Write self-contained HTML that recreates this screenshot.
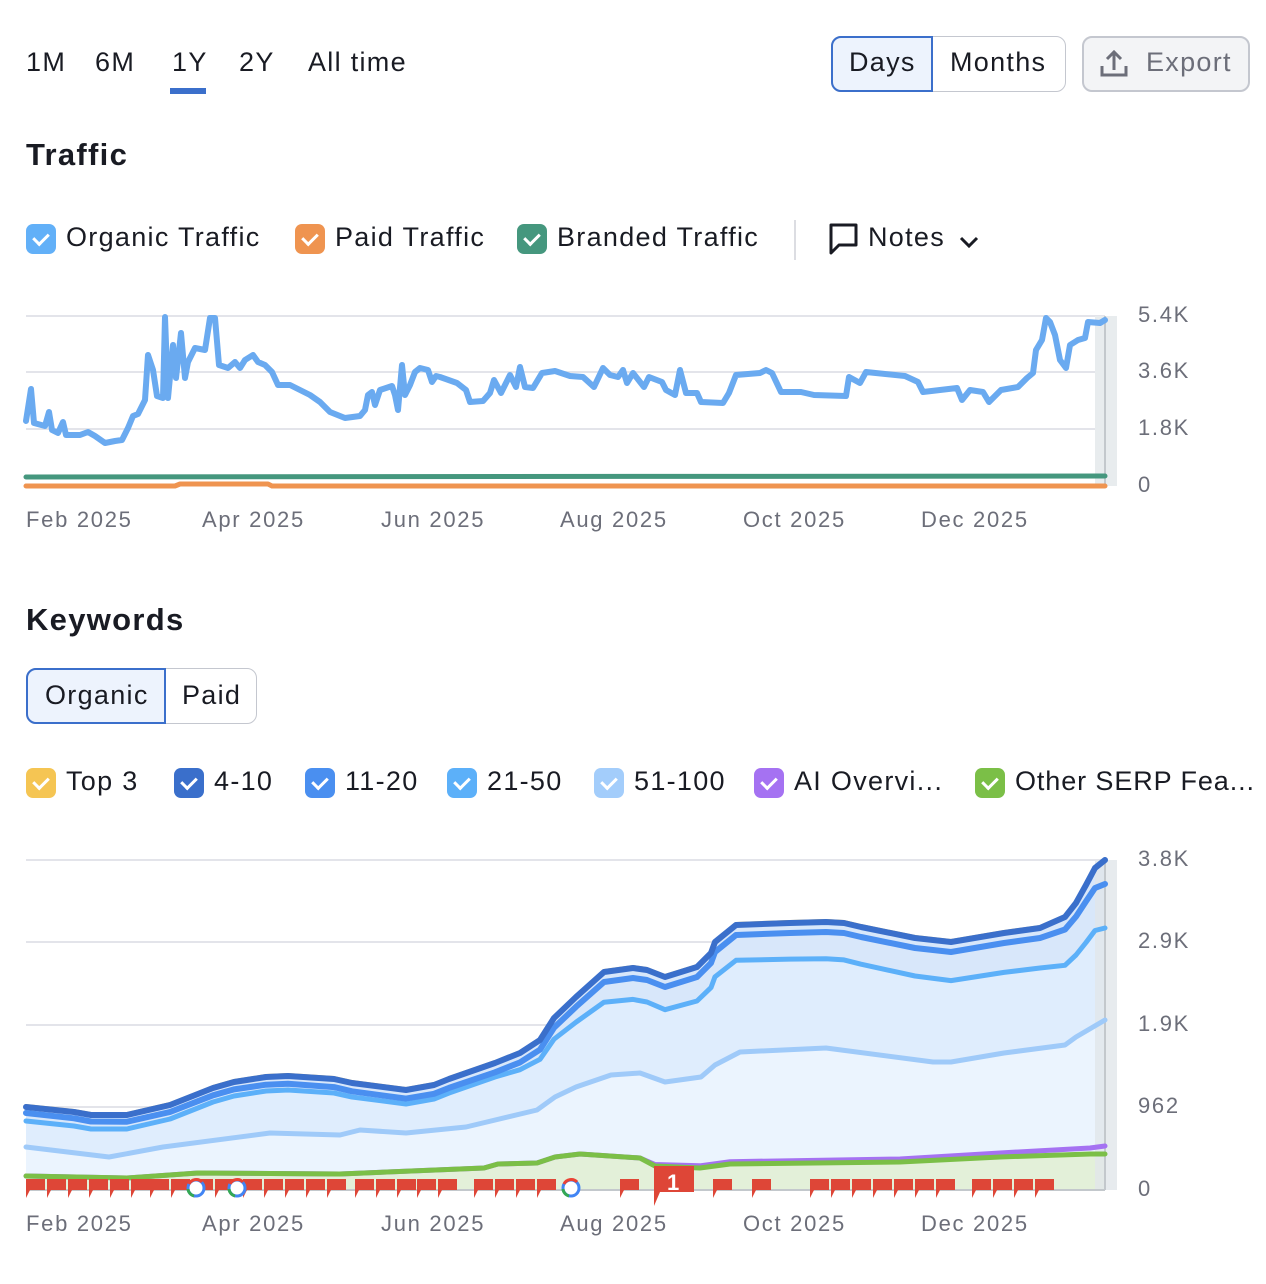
<!DOCTYPE html>
<html><head><meta charset="utf-8">
<style>
body{margin:0;width:1266px;height:1284px;background:#fff;font-family:"Liberation Sans",sans-serif;color:#191b23;position:relative;overflow:hidden;letter-spacing:1.3px}
.a{position:absolute;white-space:nowrap}
.tab{font-size:27px;top:47px}
.cb{display:inline-block;width:30px;height:30px;border-radius:7px;vertical-align:middle;position:relative;margin-right:10px}
.cb:after{content:"";position:absolute;left:10px;top:6px;width:7px;height:12px;border:solid #fff;border-width:0 3px 3px 0;transform:rotate(45deg)}
.lg{font-size:27px;top:222px}
.lg2{font-size:27px;top:766px}
.yl{font-size:22px;color:#6c6e79;letter-spacing:1.7px}
.xl{font-size:22px;color:#6c6e79;letter-spacing:1.7px}
</style></head><body>
<div class="a tab" style="left:26px">1M</div>
<div class="a tab" style="left:95px">6M</div>
<div class="a tab" style="left:172px">1Y</div>
<div class="a" style="left:170px;top:88px;width:36px;height:6px;background:#3b6fcb"></div>
<div class="a tab" style="left:239px">2Y</div>
<div class="a tab" style="left:308px">All time</div>
<div class="a" style="left:831px;top:36px;width:233px;height:54px;border:1px solid #c4c7cf;border-radius:10px"></div>
<div class="a" style="left:831px;top:36px;width:102px;height:56px;border:2px solid #3b6fcb;border-radius:10px 0 0 10px;background:#edf3fd;box-sizing:border-box"></div>
<div class="a tab" style="left:849px">Days</div>
<div class="a tab" style="left:950px">Months</div>
<div class="a" style="left:1082px;top:36px;width:168px;height:56px;border:2px solid #c4c7cf;border-radius:10px;background:#f3f4f6;box-sizing:border-box"></div>
<svg class="a" style="left:1098px;top:48px" width="32" height="32"><path d="M16 4v18M9 11l7-7 7 7M4 18v9h24v-9" fill="none" stroke="#6c6e79" stroke-width="3"/></svg>
<div class="a tab" style="left:1146px;color:#6c6e79">Export</div>

<div class="a" style="left:26px;top:137px;font-size:31px;font-weight:bold">Traffic</div>
<div class="a lg" style="left:26px"><span class="cb" style="background:#62b0f8"></span>Organic Traffic</div>
<div class="a lg" style="left:295px"><span class="cb" style="background:#ef9450"></span>Paid Traffic</div>
<div class="a lg" style="left:517px"><span class="cb" style="background:#45977e"></span>Branded Traffic</div>
<div class="a" style="left:794px;top:220px;width:2px;height:40px;background:#dcdde2"></div>
<svg class="a" style="left:828px;top:222px" width="32" height="36"><path d="M3 3h25v20H11l-8 8z" fill="none" stroke="#191b23" stroke-width="3" stroke-linejoin="round"/></svg>
<div class="a lg" style="left:868px">Notes</div>
<svg class="a" style="left:958px;top:232px" width="22" height="20"><path d="M3 6l8 8 8-8" fill="none" stroke="#191b23" stroke-width="3"/></svg>

<div class="a" style="left:26px;top:602px;font-size:31px;font-weight:bold">Keywords</div>
<div class="a" style="left:26px;top:668px;width:229px;height:54px;border:1px solid #c4c7cf;border-radius:10px"></div>
<div class="a" style="left:26px;top:668px;width:140px;height:56px;border:2px solid #3b6fcb;border-radius:10px 0 0 10px;background:#edf3fd;box-sizing:border-box"></div>
<div class="a" style="left:45px;top:680px;font-size:27px">Organic</div>
<div class="a" style="left:182px;top:680px;font-size:27px">Paid</div>
<div class="a lg2" style="left:26px"><span class="cb" style="background:#f5c553"></span>Top 3</div>
<div class="a lg2" style="left:174px"><span class="cb" style="background:#3a6fcb"></span>4-10</div>
<div class="a lg2" style="left:305px"><span class="cb" style="background:#4a8ff0"></span>11-20</div>
<div class="a lg2" style="left:447px"><span class="cb" style="background:#5cb0f9"></span>21-50</div>
<div class="a lg2" style="left:594px"><span class="cb" style="background:#a3cdfb"></span>51-100</div>
<div class="a lg2" style="left:754px"><span class="cb" style="background:#a572f2"></span>AI Overvi...</div>
<div class="a lg2" style="left:975px;letter-spacing:0.9px"><span class="cb" style="background:#7bbf47"></span>Other SERP Fea...</div>

<svg id="s" class="a" style="left:0;top:0" width="1266" height="1284"></svg>

<div class="a yl" style="left:1138px;top:302px">5.4K</div>
<div class="a yl" style="left:1138px;top:358px">3.6K</div>
<div class="a yl" style="left:1138px;top:415px">1.8K</div>
<div class="a yl" style="left:1138px;top:472px">0</div>
<div class="a yl" style="left:1138px;top:846px">3.8K</div>
<div class="a yl" style="left:1138px;top:928px">2.9K</div>
<div class="a yl" style="left:1138px;top:1011px">1.9K</div>
<div class="a yl" style="left:1138px;top:1093px">962</div>
<div class="a yl" style="left:1138px;top:1176px">0</div>
<div class="a xl" style="left:26px;top:507px">Feb 2025</div>
<div class="a xl" style="left:202px;top:507px">Apr 2025</div>
<div class="a xl" style="left:381px;top:507px">Jun 2025</div>
<div class="a xl" style="left:560px;top:507px">Aug 2025</div>
<div class="a xl" style="left:743px;top:507px">Oct 2025</div>
<div class="a xl" style="left:921px;top:507px">Dec 2025</div>
<div class="a xl" style="left:26px;top:1211px">Feb 2025</div>
<div class="a xl" style="left:202px;top:1211px">Apr 2025</div>
<div class="a xl" style="left:381px;top:1211px">Jun 2025</div>
<div class="a xl" style="left:560px;top:1211px">Aug 2025</div>
<div class="a xl" style="left:743px;top:1211px">Oct 2025</div>
<div class="a xl" style="left:921px;top:1211px">Dec 2025</div>
<div class="a" style="left:667px;top:1170px;font-size:22px;color:#fff;font-weight:bold">1</div>

<script>
var S=document.getElementById('s'),h='';
function P(a){return a.map(function(p){return p[0]+','+p[1]}).join(' ')}
function line(a,c,w){h+='<polyline points="'+P(a)+'" fill="none" stroke="'+c+'" stroke-width="'+w+'" stroke-linejoin="round" stroke-linecap="round"/>'}
function area(a,b,c){var r=b.slice().reverse();h+='<polygon points="'+P(a.concat(r))+'" fill="'+c+'"/>'}
function ip(k,x){for(var i=0;i<k.length-1;i++){if(x<=k[i+1][0]){var t=(x-k[i][0])/(k[i+1][0]-k[i][0]);return k[i][1]+t*(k[i+1][1]-k[i][1])}}return k[k.length-1][1]}
function off(a,k){return a.map(function(p){return [p[0],+(p[1]+ip(k,p[0])).toFixed(1)]})}
[316,372,429].forEach(function(y){h+='<line x1="26" x2="1105" y1="'+y+'" y2="'+y+'" stroke="#e3e4ea" stroke-width="2"/>'});
h+='<rect x="1095" y="316" width="22" height="170" fill="#e8ecee"/><line x1="1105" x2="1105" y1="316" y2="486" stroke="#c3c8cc" stroke-width="2"/>';
var org=[[26,421],[31,389],[34,423],[45,426],[49,412],[52,430],[58,433],[63,422],[66,435],[80,435],[88,432],[95,436],[105,443],[115,441],[122,440],[128,428],[133,416],[138,414],[145,400],[148,355],[153,370],[157,396],[163,398],[165,317],[168,398],[173,345],[176,378],[181,333],[185,378],[188,362],[195,348],[205,350],[210,318],[215,318],[219,365],[228,368],[235,362],[240,368],[245,360],[253,355],[258,362],[265,365],[272,372],[278,385],[290,385],[300,390],[310,395],[320,402],[330,412],[345,418],[360,416],[365,410],[368,395],[372,392],[375,405],[380,390],[392,386],[395,395],[398,410],[402,365],[405,395],[410,385],[415,372],[420,368],[428,370],[432,382],[436,376],[440,377],[457,383],[466,390],[470,402],[483,401],[490,393],[494,380],[501,393],[510,375],[516,387],[520,367],[525,387],[533,388],[542,373],[555,371],[570,376],[583,377],[594,387],[603,368],[610,375],[618,377],[623,370],[627,383],[633,373],[644,387],[649,377],[662,382],[666,390],[675,395],[680,370],[686,393],[697,393],[701,402],[723,403],[729,393],[736,375],[760,373],[766,370],[772,373],[781,392],[801,392],[814,395],[846,396],[849,377],[860,383],[866,372],[905,376],[918,382],[923,392],[957,388],[962,400],[970,390],[983,392],[989,402],[1001,390],[1018,387],[1027,378],[1033,373],[1036,350],[1042,340],[1046,318],[1050,322],[1055,335],[1060,360],[1066,368],[1070,345],[1078,340],[1085,338],[1088,322],[1100,323],[1105,320]];
line([[26,477],[1105,476]],'#45977e',5);
line([[26,486],[175,486],[180,484],[268,484],[272,486],[1105,486]],'#ef9450',5);
line(org,'#6aaaf0',6);
[860,942,1025,1107].forEach(function(y){h+='<line x1="26" x2="1105" y1="'+y+'" y2="'+y+'" stroke="#e3e4ea" stroke-width="2"/>'});
var t=[[26,1107],[74,1112],[91,1115],[127,1115],[170,1105],[213,1088],[234,1082],[266,1077],[288,1076],[334,1079],[352,1083],[406,1090],[434,1085],[449,1079],[495,1063],[520,1053],[540,1040],[554,1018],[576,997],[604,972],[633,968],[647,970],[665,977],[697,967],[711,953],[715,942],[736,925],[790,923],[826,922],[844,923],[861,927],[915,938],[951,942],[1004,933],[1040,928],[1065,917],[1076,903],[1086,885],[1095,868],[1105,860]];
var t2=off(t,[[26,6],[600,10],[1040,10],[1080,14],[1105,24]]);
var t3=off(t,[[26,14],[500,14],[560,22],[600,30],[720,35],[1040,40],[1076,52],[1105,68]]);
var t4=[[26,1147],[109,1157],[163,1147],[270,1133],[340,1135],[360,1130],[406,1133],[466,1127],[537,1110],[555,1097],[576,1087],[611,1075],[640,1073],[665,1082],[701,1077],[715,1065],[740,1052],[826,1048],[933,1062],[951,1062],[1004,1053],[1065,1045],[1076,1037],[1105,1020]];
var g=[[26,1176],[127,1178],[198,1173],[340,1174],[484,1168],[498,1164],[537,1163],[555,1157],[580,1154],[640,1158],[655,1166],[700,1168],[730,1164],[900,1162],[1000,1157],[1090,1154],[1105,1154]];
var pu=off(g,[[26,0],[640,0],[660,-2],[900,-3],[1000,-4],[1090,-6],[1105,-8]]);
var base=[[26,1190],[1105,1190]];
area(t,t3,'#d8e7fa');area(t3,t4,'#dfedfd');area(t4,g,'#ebf4fe');area(g,base,'#e3f0d9');
h+='<rect x="1095" y="860" width="22" height="330" fill="#e1e6ea" opacity=".8"/><line x1="1105" x2="1105" y1="860" y2="1190" stroke="#c3c8cc" stroke-width="2"/>';
h+='<line x1="26" x2="1105" y1="1190" y2="1190" stroke="#c3c8cc" stroke-width="2"/>';
line(pu,'#a572f2',5);line(g,'#7bbf47',5);
line(t4,'#9fcaf9',5);line(t3,'#5cb0f9',5);line(t2,'#4a8ff0',6);
line(off(t,[[26,-2],[1105,-2]]),'#f2c14e',2);line(t,'#3a6fcb',6);
var spans=[[26,146],[150,186],[194,227],[243,348],[355,409],[417,454],[474,559],[620,640],[713,741],[752,778],[810,964],[972,1045]];
spans.forEach(function(s){for(var x=s[0];x+14<=s[1]+4;x+=21){h+='<path d="M'+x+' 1179h19v11h-15l-4 8z" fill="#de4637"/>'}});
h+='<path d="M654 1166h40v26h-34l-6 14z" fill="#de4637"/>';
[[196,1188],[237,1188],[571,1188]].forEach(function(c){h+='<circle cx="'+c[0]+'" cy="'+c[1]+'" r="8" fill="#fff" stroke="#4285f4" stroke-width="3"/><path d="M'+(c[0]-7)+' '+(c[1]-4)+'a8 8 0 0 1 13 -2" fill="none" stroke="#ea4335" stroke-width="3"/><path d="M'+(c[0]-8)+' '+(c[1]+1)+'a8 8 0 0 0 6 7" fill="none" stroke="#34a853" stroke-width="3"/>'});
S.innerHTML=h;
</script>
</body></html>
